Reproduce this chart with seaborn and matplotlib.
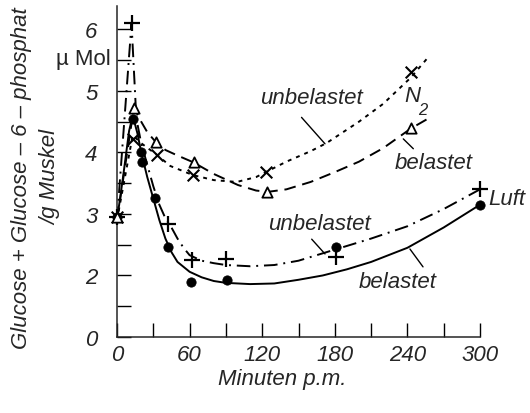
import numpy as np
import pandas as pd
import matplotlib
matplotlib.use("Agg")
import matplotlib.pyplot as plt
import seaborn as sns

# ---------------- data ----------------
# measured points
luft_unb_x = [0, 12, 42, 62, 90, 181, 300]
luft_unb_y = [2.95, 6.1, 2.84, 2.25, 2.27, 2.30, 3.41]

luft_bel_x = [0, 13, 20, 21, 31, 42, 61, 91, 181, 300]
luft_bel_y = [2.95, 4.55, 4.0, 3.85, 3.26, 2.47, 1.89, 1.92, 2.47, 3.15]

n2_unb_x = [0, 13, 33, 63, 123, 243]
n2_unb_y = [2.95, 4.22, 3.96, 3.64, 3.69, 5.30]

n2_bel_x = [0, 14, 32, 64, 124, 243]
n2_bel_y = [2.95, 4.73, 4.17, 3.84, 3.36, 4.39]

# hand-drawn fitted curves
c_luft_unb_x = [0, 12, 16, 20, 25, 30, 35, 40, 45, 50, 55, 60, 70, 80, 90, 110, 130, 150, 170, 190, 210, 240, 270, 300]
c_luft_unb_y = [2.9, 6.1, 4.55, 4.15, 3.8, 3.45, 3.15, 2.93, 2.78, 2.6, 2.45, 2.33, 2.24, 2.2, 2.17, 2.15, 2.17, 2.24, 2.36, 2.48, 2.6, 2.8, 3.08, 3.4]

c_luft_bel_x = [0, 5, 10, 13, 17, 20, 25, 30, 35, 40, 45, 50, 60, 70, 80, 90, 110, 130, 150, 170, 190, 210, 240, 270, 300]
c_luft_bel_y = [2.9, 3.6, 4.35, 4.6, 4.3, 4.0, 3.6, 3.25, 2.9, 2.6, 2.38, 2.22, 2.06, 1.97, 1.91, 1.88, 1.86, 1.87, 1.93, 2.0, 2.1, 2.22, 2.45, 2.78, 3.15]

c_n2_unb_x = [0, 13, 20, 33, 44, 63, 80, 99, 115, 123, 140, 160, 173, 200, 220, 243, 256]
c_n2_unb_y = [2.9, 4.28, 4.15, 3.96, 3.78, 3.63, 3.55, 3.52, 3.6, 3.68, 3.85, 4.02, 4.15, 4.5, 4.79, 5.22, 5.52]

c_n2_bel_x = [0, 14, 20, 25, 32, 40, 50, 63, 80, 100, 115, 125, 140, 160, 180, 200, 220, 243, 258]
c_n2_bel_y = [2.9, 4.73, 4.5, 4.33, 4.17, 4.04, 3.95, 3.84, 3.65, 3.47, 3.38, 3.36, 3.4, 3.52, 3.68, 3.85, 4.07, 4.39, 4.56]

x_ticks = [0, 60, 120, 180, 240, 300]
x_ticklabels = ["0", "60", "120", "180", "240", "300"]
y_ticks = [1, 2, 3, 4, 5, 6]
y_ticklabels = ["0", "2", "3", "4", "5", "6"]   # broken axis: bottom tick is labelled 0

# ---------------- style ----------------
sns.set_style("ticks")
FAM = ["Liberation Sans", "DejaVu Sans"]
plt.rcParams["font.family"] = FAM
plt.rcParams["font.style"] = "italic"
plt.rcParams["axes.linewidth"] = 1.1

fig = plt.figure(figsize=(5.3, 4.14), dpi=100)
ax = fig.add_axes([117 / 530, 1 - 338 / 414, 363 / 530, 331 / 414])

K = "black"
curves = [
    (c_n2_unb_x, c_n2_unb_y, (0, (2.0, 2.6))),
    (c_n2_bel_x, c_n2_bel_y, (0, (6, 3.5))),
    (c_luft_unb_x, c_luft_unb_y, (0, (7, 3, 1, 3))),
    (c_luft_bel_x, c_luft_bel_y, "-"),
]
for cx, cy, ls in curves:
    sns.lineplot(x=cx, y=cy, ax=ax, color=K, linewidth=1.4, linestyle=ls,
                 sort=False, estimator=None)

mk = dict(ax=ax, legend=False, zorder=5, clip_on=False)
sns.scatterplot(x=luft_unb_x, y=luft_unb_y, marker="+", s=140, color=K, linewidths=1.6, **mk)
sns.scatterplot(x=luft_bel_x, y=luft_bel_y, marker="o", s=45, color=K, edgecolor=K, **mk)
sns.scatterplot(x=n2_unb_x, y=n2_unb_y, marker="x", s=70, color=K, linewidths=1.5, **mk)
sns.scatterplot(x=n2_bel_x, y=n2_bel_y, marker="^", s=55, facecolor="white", edgecolor=K, linewidth=1.3, **mk)

# axes
ax.set_xlim(0, 300)
ax.set_ylim(1, 6.38)
ax.set_xticks(x_ticks)
ax.set_xticklabels(x_ticklabels)
ax.set_xticks(np.arange(30, 301, 60), minor=True)
ax.set_yticks(y_ticks)
ax.set_yticklabels(y_ticklabels)
ax.set_yticks(np.arange(1.5, 6.1, 1.0), minor=True)
ax.tick_params(which="both", direction="in", length=10, width=1.0, color=K)
ax.tick_params(axis="x", which="major", pad=5, labelsize=16)
ax.tick_params(axis="y", which="major", pad=14, labelsize=16)
sns.despine(ax=ax)
ax.set_xlabel("")
ax.set_ylabel("")

# annotations
fs = 16
ax.text(160.3, 4.89, "unbelastet", fontsize=fs, ha="center", va="center")
ax.text(244.5, 4.92, "N", fontsize=fs, ha="center", va="center")
ax.text(252.5, 4.7, "2", fontsize=12, ha="center", va="center")
ax.text(262, 3.83, "belastet", fontsize=fs, ha="center", va="center")
ax.text(322.3, 3.25, "Luft", fontsize=fs, ha="center", va="center", clip_on=False)
ax.text(167, 2.85, "unbelastet", fontsize=fs, ha="center", va="center")
ax.text(232.2, 1.91, "belastet", fontsize=fs, ha="center", va="center")

leaders = [
    ((152.5, 4.57), (171.9, 4.14)),
    ((236.6, 4.22), (244.9, 4.06)),
    ((160.9, 2.59), (171.9, 2.35)),
    ((242.1, 2.43), (252.9, 2.14)),
]
for (x0, y0), (x1, y1) in leaders:
    ax.plot([x0, x1], [y0, y1], color=K, linewidth=1.0)

fig.text(282 / 530, 1 - 380 / 414, "Minuten p.m.", fontsize=fs, ha="center", va="center")
fig.text(83 / 530, 1 - 60 / 414, "µ Mol", fontsize=16, ha="center", va="center", style="normal")
fig.text(22 / 530, 1 - 178 / 414, "Glucose + Glucose – 6 – phosphat", fontsize=fs,
         rotation=90, ha="center", va="center")
fig.text(51 / 530, 1 - 177 / 414, "/g Muskel", fontsize=fs,
         rotation=90, ha="center", va="center")

fig.savefig("out.png", dpi=100)
